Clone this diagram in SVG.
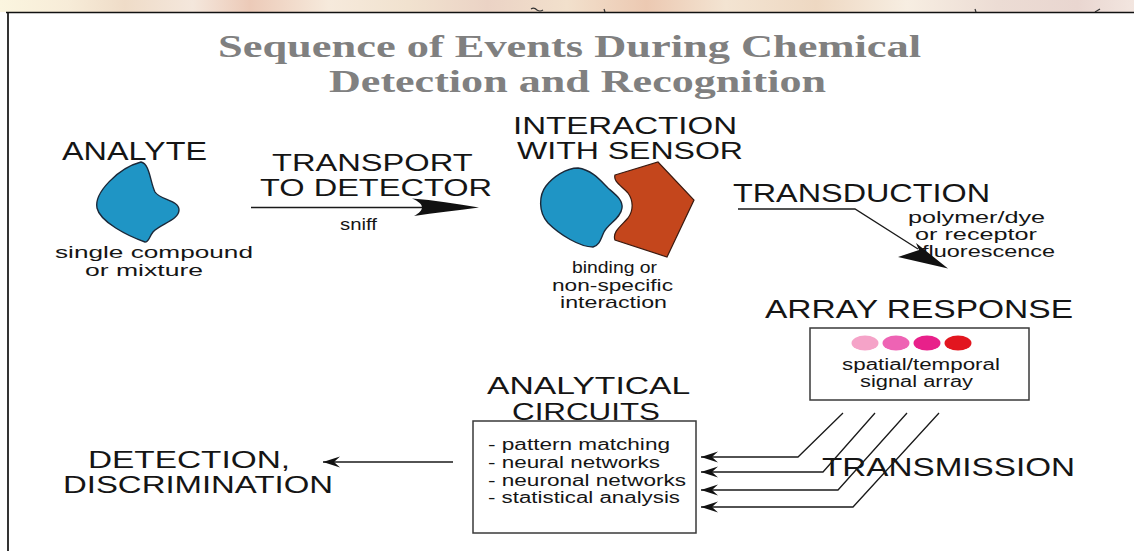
<svg xmlns="http://www.w3.org/2000/svg" width="1134" height="551" viewBox="0 0 1134 551">
  <defs>
    <style>
      .title { font-family: "Liberation Serif", "Times New Roman", serif; font-weight: bold; font-size: 31px; fill: #808080; }
      .big { font-family: "Liberation Sans", Arial, sans-serif; font-size: 25px; fill: #151515; }
      .pair { font-family: "Liberation Sans", Arial, sans-serif; font-size: 24px; fill: #151515; }
      .small { font-family: "Liberation Sans", Arial, sans-serif; font-size: 17px; fill: #151515; }
      .list { font-family: "Liberation Sans", Arial, sans-serif; font-size: 16px; fill: #151515; }
      .wire { fill: none; stroke: #1a1a1a; stroke-width: 1.3; }
      .frame { fill: none; stroke: #111; stroke-width: 1.7; }
      .box { fill: #ffffff; stroke: #3a3a3a; stroke-width: 1.5; }
      .blue { fill: #1f95c5; stroke: #1b2838; stroke-width: 1.4; }
      .orange { fill: #c4461c; stroke: #3a1a10; stroke-width: 1.2; }
    </style>
    <linearGradient id="bandGrad" x1="0" y1="0" x2="1" y2="0">
      <stop offset="0" stop-color="#fbf5df"/>
      <stop offset="0.06" stop-color="#f7ecd8"/>
      <stop offset="0.11" stop-color="#efdcc8"/>
      <stop offset="0.17" stop-color="#f4e7dc"/>
      <stop offset="0.22" stop-color="#eccab8"/>
      <stop offset="0.29" stop-color="#f6eadc"/>
      <stop offset="0.36" stop-color="#f1e2cf"/>
      <stop offset="0.43" stop-color="#ebd3c5"/>
      <stop offset="0.5" stop-color="#f2e0cc"/>
      <stop offset="0.57" stop-color="#ecc9b2"/>
      <stop offset="0.64" stop-color="#f3e4d2"/>
      <stop offset="0.72" stop-color="#eed8c2"/>
      <stop offset="0.8" stop-color="#f7eee2"/>
      <stop offset="0.88" stop-color="#ecdcd4"/>
      <stop offset="0.95" stop-color="#e9d6d0"/>
      <stop offset="1" stop-color="#f3e6e0"/>
    </linearGradient>
    <marker id="barb" markerUnits="userSpaceOnUse" markerWidth="20" markerHeight="12" refX="0" refY="0" viewBox="-18 -6 20 12" orient="auto">
      <path d="M0,0 L-17,-5.5 L-11,0 L-17,5.5 Z" fill="#111"/>
    </marker>
  </defs>

  <!-- page background and faded top band -->
  <rect x="0" y="0" width="1134" height="551" fill="#ffffff"/>
  <rect x="0" y="0" width="1134" height="12" fill="url(#bandGrad)"/>
  <g id="band-marks" fill="none" stroke="#333" stroke-width="1.2">
    <path d="M531,9 Q534,7 537,10 Q540,12 543,10"/>
    <path d="M604,9 L605,12"/>
    <path d="M975,9 L976,12"/>
    <path d="M1095,12 L1100,9"/>
  </g>

  <!-- page frame -->
  <path class="frame" d="M6,12.5 L1134,12.5 M8,12 L8,551"/>

  <!-- heading -->
  <g id="title">
    <text class="title">
      <tspan x="218" y="57" textLength="703" lengthAdjust="spacingAndGlyphs">Sequence of Events During Chemical</tspan>
      <tspan x="329" y="92" textLength="497" lengthAdjust="spacingAndGlyphs">Detection and Recognition</tspan>
    </text>
  </g>

  <!-- analyte -->
  <g id="analyte">
    <text class="big" x="62" y="160" font-size="23" textLength="145" lengthAdjust="spacingAndGlyphs">ANALYTE</text>
    <path class="blue" d="M141,162 C150,164 150,182 155,192 C160,200 179,200 179,210 C179,220 160,224 153,232 C149,237 149,242 145,242 C128,236 100,222 97,208 C94,193 118,168 141,162 Z"/>
    <text class="small" font-size="18">
      <tspan x="55" y="258" textLength="198" lengthAdjust="spacingAndGlyphs">single compound</tspan>
      <tspan x="85" y="276" textLength="118" lengthAdjust="spacingAndGlyphs">or mixture</tspan>
    </text>
  </g>

  <!-- transport step -->
  <g id="transport">
    <text class="pair">
      <tspan x="272" y="171" textLength="200" lengthAdjust="spacingAndGlyphs">TRANSPORT</tspan>
      <tspan x="260" y="196" textLength="232" lengthAdjust="spacingAndGlyphs">TO DETECTOR</tspan>
    </text>
    <text class="small" x="340" y="230" textLength="37" lengthAdjust="spacingAndGlyphs">sniff</text>
  </g>

  <!-- interaction with sensor -->
  <g id="interaction">
    <text class="pair">
      <tspan x="513" y="134" textLength="224" lengthAdjust="spacingAndGlyphs">INTERACTION</tspan>
      <tspan x="517" y="159" textLength="226" lengthAdjust="spacingAndGlyphs">WITH SENSOR</tspan>
    </text>
    <path class="blue" d="M578,168 C592,170 600,180 608,188 C616,195 623,200 622,208 C621,218 608,224 604,232 C601,238 600,245 593,247 C580,247 560,235 548,223 C538,212 539,195 546,186 C553,177 566,168 578,168 Z"/>
    <path class="orange" d="M615,175 L658,162 L694,200 L667,257 L615,240 C612,232 621,226 628,218 C634,210 633,200 628,193 C622,186 613,182 615,175 Z"/>
    <text class="small" font-size="18">
      <tspan x="572" y="273" textLength="85" lengthAdjust="spacingAndGlyphs">binding or</tspan>
      <tspan x="552" y="291" textLength="121" lengthAdjust="spacingAndGlyphs">non-specific</tspan>
      <tspan x="560" y="308" textLength="107" lengthAdjust="spacingAndGlyphs">interaction</tspan>
    </text>
  </g>

  <!-- transduction -->
  <g id="transduction">
    <text class="big" x="733" y="202" textLength="257" lengthAdjust="spacingAndGlyphs">TRANSDUCTION</text>
    <text class="small" font-size="16">
      <tspan x="908" y="223" textLength="137" lengthAdjust="spacingAndGlyphs">polymer/dye</tspan>
      <tspan x="915" y="240" textLength="122" lengthAdjust="spacingAndGlyphs">or receptor</tspan>
      <tspan x="922" y="257" textLength="133" lengthAdjust="spacingAndGlyphs">fluorescence</tspan>
    </text>
  </g>

  <!-- array response -->
  <g id="array-response">
    <text class="big" x="765" y="318" textLength="308" lengthAdjust="spacingAndGlyphs">ARRAY RESPONSE</text>
    <rect class="box" x="810" y="328" width="219" height="72"/>
    <ellipse cx="865" cy="343" rx="13.5" ry="7.5" fill="#f5a3c8"/>
    <ellipse cx="896" cy="343" rx="13.5" ry="7.5" fill="#ee63b4"/>
    <ellipse cx="927" cy="343" rx="13.5" ry="7.5" fill="#e8208a"/>
    <ellipse cx="958" cy="343" rx="13.5" ry="7.5" fill="#e2161f"/>
    <text class="list">
      <tspan x="842" y="370" textLength="158" lengthAdjust="spacingAndGlyphs">spatial/temporal</tspan>
      <tspan x="860" y="387" textLength="113" lengthAdjust="spacingAndGlyphs">signal array</tspan>
    </text>
  </g>

  <!-- analytical circuits -->
  <g id="analytical-circuits">
    <text class="pair">
      <tspan x="487" y="394" textLength="202" lengthAdjust="spacingAndGlyphs">ANALYTICAL</tspan>
      <tspan x="512" y="420" textLength="148" lengthAdjust="spacingAndGlyphs">CIRCUITS</tspan>
    </text>
    <rect class="box" x="473" y="421" width="223" height="112"/>
    <text class="list">
      <tspan x="488" y="450" textLength="182" lengthAdjust="spacingAndGlyphs">- pattern matching</tspan>
      <tspan x="488" y="468" textLength="172" lengthAdjust="spacingAndGlyphs">- neural networks</tspan>
      <tspan x="488" y="486" textLength="198" lengthAdjust="spacingAndGlyphs">- neuronal networks</tspan>
      <tspan x="488" y="503" textLength="192" lengthAdjust="spacingAndGlyphs">- statistical analysis</tspan>
    </text>
  </g>

  <!-- transmission label -->
  <g id="transmission">
    <text class="big" x="822" y="476" textLength="253" lengthAdjust="spacingAndGlyphs">TRANSMISSION</text>
  </g>

  <!-- detection output -->
  <g id="detection">
    <text class="pair">
      <tspan x="88" y="468" textLength="202" lengthAdjust="spacingAndGlyphs">DETECTION,</tspan>
      <tspan x="63" y="493" textLength="270" lengthAdjust="spacingAndGlyphs">DISCRIMINATION</tspan>
    </text>
  </g>

  <!-- connectors -->
  <g id="connectors">
    <!-- transport -->
    <path class="wire" d="M251,207.5 L440,207.5"/>
    <path d="M479,207.5 C456,204 434,200 412,198.5 C425,204 425,210 414,216 C434,213 456,210.5 479,207.5 Z" fill="#111"/>
    <!-- transduction -->
    <path class="wire" d="M738,209 L855,209 L918,249"/>
    <path d="M948,268.5 L916,243 L919,250 L898,257 Z" fill="#111"/>
    <!-- transmission lines into the circuits -->
    <path class="wire" d="M843,413 L798,457 L701,457" marker-end="url(#barb)"/>
    <path class="wire" d="M875,413 L823,472 L701,472" marker-end="url(#barb)"/>
    <path class="wire" d="M907,413 L838,490 L701,490" marker-end="url(#barb)"/>
    <path class="wire" d="M939,413 L853,507 L701,507" marker-end="url(#barb)"/>
    <!-- circuits to detection -->
    <path class="wire" d="M453,462 L323,462" marker-end="url(#barb)"/>
  </g>
</svg>
